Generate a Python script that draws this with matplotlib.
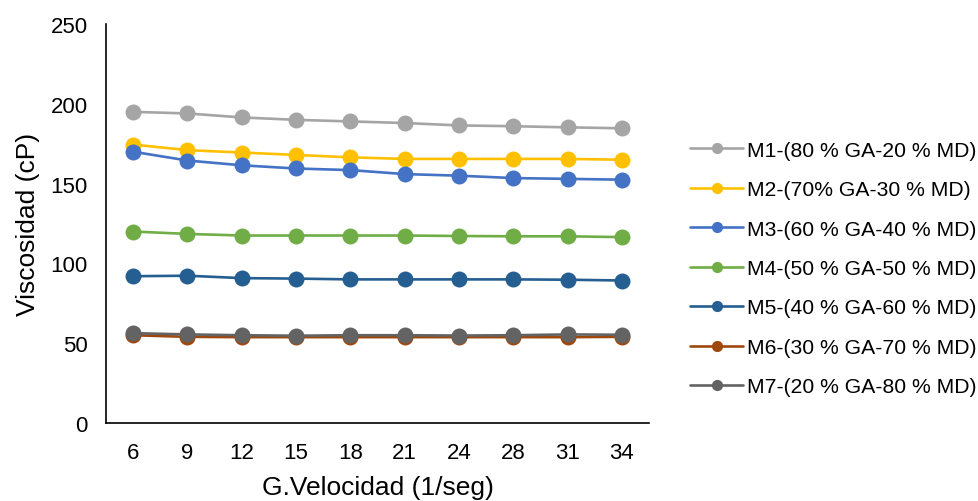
import matplotlib
matplotlib.use("Agg")
import matplotlib.pyplot as plt
import numpy as np

plt.rcParams['font.family'] = ['Liberation Sans', 'DejaVu Sans']

shear_rates = ["6", "9", "12", "15", "18", "21", "24", "28", "31", "34"]

m1 = [195, 194, 191.5, 190, 189, 188, 186.5, 186, 185.3, 184.7]
m2 = [174.5, 171, 169.5, 168, 166.5, 165.5, 165.5, 165.5, 165.5, 165]
m3 = [170, 164.5, 161.5, 159.5, 158.5, 156, 155, 153.5, 153, 152.5]
m4 = [120, 118.5, 117.5, 117.5, 117.5, 117.5, 117.2, 117, 117, 116.5]
m5 = [92, 92.3, 90.8, 90.5, 90, 90, 90, 90, 89.8, 89.3]
m6 = [55, 54, 53.8, 53.8, 53.8, 53.8, 53.8, 53.8, 53.8, 54]
m7 = [56.3, 55.5, 55, 54.7, 55, 55, 54.8, 55, 55.5, 55.3]

labels = [
    "M1-(80 % GA-20 % MD)",
    "M2-(70% GA-30 % MD)",
    "M3-(60 % GA-40 % MD)",
    "M4-(50 % GA-50 % MD)",
    "M5-(40 % GA-60 % MD)",
    "M6-(30 % GA-70 % MD)",
    "M7-(20 % GA-80 % MD)",
]
colors = ["#A5A5A5", "#FFC000", "#4472C4", "#70AD47", "#255E91", "#9E480E", "#636363"]
series = [m1, m2, m3, m4, m5, m6, m7]

fig = plt.figure(figsize=(9.79, 5.02), dpi=100)
ax = fig.add_axes([0.1083, 0.1554, 0.5547, 0.7946])

x = np.arange(len(shear_rates))
for vals, lab, col in zip(series, labels, colors):
    ax.plot(x, vals, color=col, lw=1.9, marker='o', markersize=11.5,
            markeredgewidth=0, label=lab, solid_capstyle='round')

ax.set_xlim(-0.5, len(shear_rates) - 0.5)
ax.set_ylim(0, 250)
ax.set_yticks([0, 50, 100, 150, 200, 250])
ax.set_xticks(x)
ax.set_xticklabels(shear_rates)
ax.tick_params(axis='both', length=0, labelsize=16, colors='black')
ax.tick_params(axis='y', pad=13)
ax.tick_params(axis='x', pad=14)
for side in ['top', 'right']:
    ax.spines[side].set_visible(False)
for side in ['left', 'bottom']:
    ax.spines[side].set_linewidth(1.2)
    ax.spines[side].set_color('black')

ax.set_xlabel("G.Velocidad (1/seg)", fontsize=19, labelpad=8)
ax.set_ylabel("Viscosidad (cP)", fontsize=19, labelpad=8)

leg = fig.legend(loc='upper left', bbox_to_anchor=(0.705, 0.718),
                 frameon=False, fontsize=15.2, handlelength=2.5,
                 handletextpad=0.2, labelspacing=0.97, borderpad=0,
                 borderaxespad=0, markerscale=0.7)

fig.savefig("out.png", dpi=100)
